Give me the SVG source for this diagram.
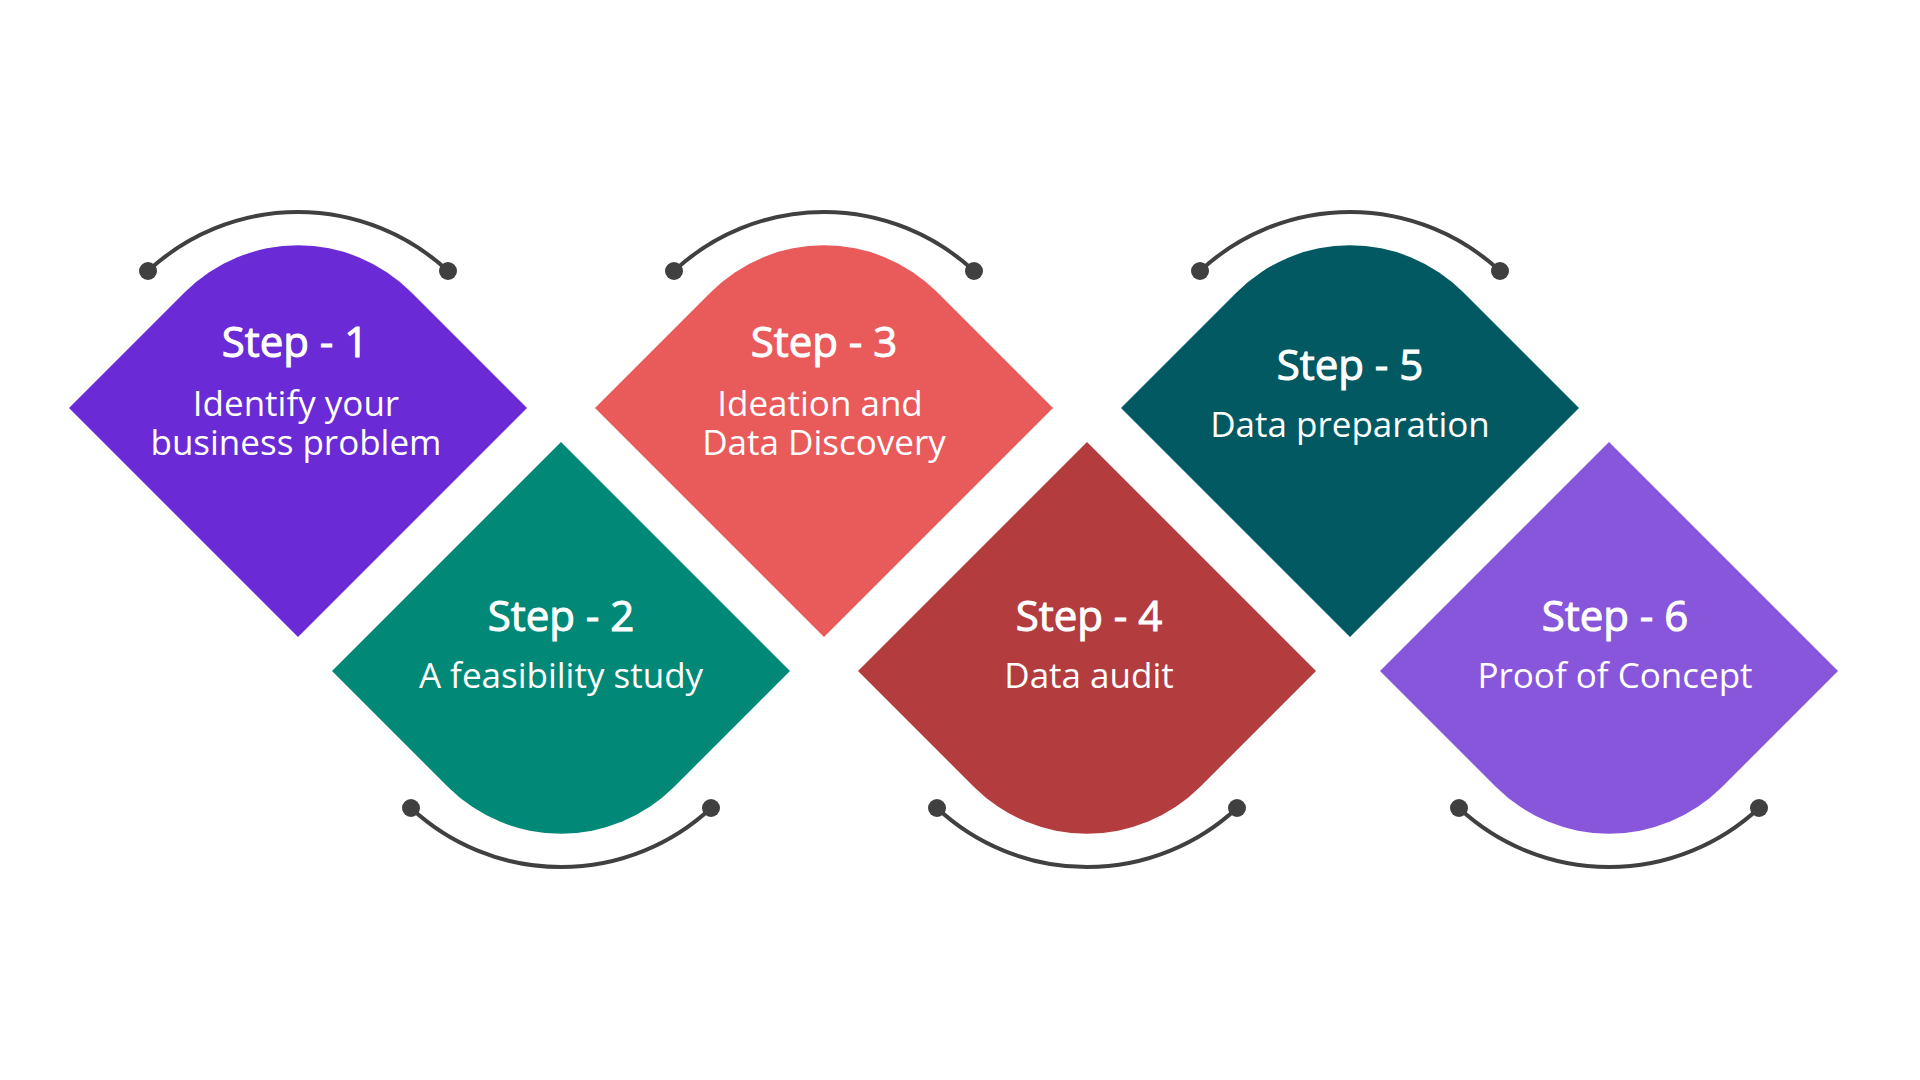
<svg xmlns="http://www.w3.org/2000/svg" width="1920" height="1080" viewBox="0 0 1920 1080">
  <style>
    .title { font-family: "Open Sans", "Noto Sans", sans-serif; font-weight: 400; font-size: 42px; fill: #ffffff; stroke: #ffffff; stroke-width: 1; text-anchor: middle; }
    .sub { font-family: "Open Sans", "Noto Sans", sans-serif; font-weight: 400; font-size: 35px; fill: #ffffff; text-anchor: middle; }
    .arc { fill: none; stroke: #404040; stroke-width: 4; }
    .dot { fill: #404040; }
  </style>
  <rect width="1920" height="1080" fill="#ffffff"/>

  <g id="step1">
    <path d="M69,408 L185,292 A160,160 0 0 1 411,292 L527,408 L298,637 Z" fill="#6A2AD5"/>
    <text class="title" x="295" y="357">Step - 1</text>
    <text class="sub" x="296" y="416">Identify your</text>
    <text class="sub" x="296" y="455">business problem</text>
  </g>

  <g id="step2">
    <path d="M561,442 L790,671 L674,787 A160,160 0 0 1 448,787 L332,671 Z" fill="#028876"/>
    <text class="title" x="561" y="631">Step - 2</text>
    <text class="sub" x="561" y="688">A feasibility study</text>
  </g>

  <g id="step3">
    <path d="M595,408 L711,292 A160,160 0 0 1 937,292 L1053,408 L824,637 Z" fill="#E95A5A"/>
    <text class="title" x="824" y="357">Step - 3</text>
    <text class="sub" x="820" y="416">Ideation and</text>
    <text class="sub" x="824" y="455">Data Discovery</text>
  </g>

  <g id="step4">
    <path d="M1087,442 L1316,671 L1200,787 A160,160 0 0 1 974,787 L858,671 Z" fill="#B33C3F"/>
    <text class="title" x="1089" y="631">Step - 4</text>
    <text class="sub" x="1089" y="688">Data audit</text>
  </g>

  <g id="step5">
    <path d="M1121,408 L1237,292 A160,160 0 0 1 1463,292 L1579,408 L1350,637 Z" fill="#035962"/>
    <text class="title" x="1350" y="380">Step - 5</text>
    <text class="sub" x="1350" y="437">Data preparation</text>
  </g>

  <g id="step6">
    <path d="M1609,442 L1838,671 L1722,787 A160,160 0 0 1 1496,787 L1380,671 Z" fill="#8856DB"/>
    <text class="title" x="1615" y="631">Step - 6</text>
    <text class="sub" x="1615" y="688">Proof of Concept</text>
  </g>

  <g id="connectors">
    <path class="arc" d="M148,271 A220,220 0 0 1 448,271"/>
    <circle class="dot" cx="148" cy="271" r="9"/>
    <circle class="dot" cx="448" cy="271" r="9"/>

    <path class="arc" d="M411,808 A220,220 0 0 0 711,808"/>
    <circle class="dot" cx="411" cy="808" r="9"/>
    <circle class="dot" cx="711" cy="808" r="9"/>

    <path class="arc" d="M674,271 A220,220 0 0 1 974,271"/>
    <circle class="dot" cx="674" cy="271" r="9"/>
    <circle class="dot" cx="974" cy="271" r="9"/>

    <path class="arc" d="M937,808 A220,220 0 0 0 1237,808"/>
    <circle class="dot" cx="937" cy="808" r="9"/>
    <circle class="dot" cx="1237" cy="808" r="9"/>

    <path class="arc" d="M1200,271 A220,220 0 0 1 1500,271"/>
    <circle class="dot" cx="1200" cy="271" r="9"/>
    <circle class="dot" cx="1500" cy="271" r="9"/>

    <path class="arc" d="M1459,808 A220,220 0 0 0 1759,808"/>
    <circle class="dot" cx="1459" cy="808" r="9"/>
    <circle class="dot" cx="1759" cy="808" r="9"/>
  </g>
</svg>
